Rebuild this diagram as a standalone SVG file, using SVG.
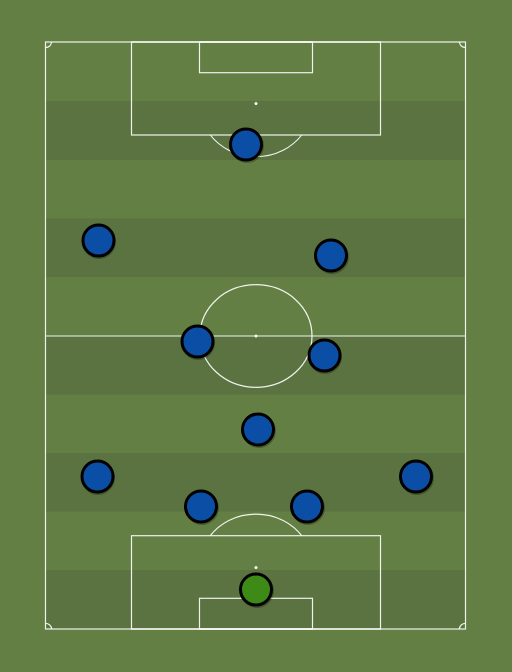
<svg xmlns="http://www.w3.org/2000/svg" width="512" height="672" viewBox="0 0 512 672">
<defs>
<style>
.band{fill:#5a7340}
.line{fill:none;stroke:#ffffff;stroke-width:1.2;stroke-opacity:0.9}
.spot{fill:#ffffff}
.player{stroke:#000000;stroke-width:3}
.outfield{fill:#0b4ea5}
.keeper{fill:#3d8a17}
.shadow{fill:#000000;fill-opacity:0.25}
</style>
</defs>
<rect x="0" y="0" width="512" height="672" fill="#637f43"/>
<g id="pitch">
<rect class="band" x="45.5" y="101" width="420" height="59"/>
<rect class="band" x="45.5" y="218.5" width="420" height="58.5"/>
<rect class="band" x="45.5" y="336" width="420" height="58.5"/>
<rect class="band" x="45.5" y="453" width="420" height="58.5"/>
<rect class="band" x="45.5" y="570" width="420" height="59"/>
<rect class="line" x="45.5" y="42" width="420" height="587"/>
<line class="line" x1="45.5" y1="336" x2="465.5" y2="336"/>
<ellipse class="line" cx="256" cy="336" rx="56" ry="51.3"/>
<circle class="spot" cx="256" cy="336" r="1.5"/>
<rect class="line" x="131.5" y="42" width="249" height="93"/>
<rect class="line" x="199.5" y="42" width="113" height="30.7"/>
<circle class="spot" cx="256" cy="103.5" r="1.5"/>
<path class="line" d="M210.3 135 A56 51.3 0 0 0 301.7 135"/>
<rect class="line" x="131.5" y="535.7" width="249" height="93.3"/>
<rect class="line" x="199.5" y="598.3" width="113" height="30.7"/>
<circle class="spot" cx="256" cy="567.5" r="1.5"/>
<path class="line" d="M210.3 535.7 A56 51.3 0 0 1 301.7 535.7"/>
<path class="line" d="M45.5 47.6 A6 5.6 0 0 0 51.5 42"/>
<path class="line" d="M459.5 42 A6 5.6 0 0 0 465.5 47.6"/>
<path class="line" d="M45.5 623.4 A6 5.6 0 0 1 51.5 629"/>
<path class="line" d="M459.5 629 A6 5.6 0 0 1 465.5 623.4"/>
</g>
<g id="p1"><circle class="shadow" cx="247" cy="146" r="17"/><circle class="player outfield" cx="246" cy="144.5" r="15.5"/></g>
<g id="p2"><circle class="shadow" cx="99" cy="242" r="17"/><circle class="player outfield" cx="98.5" cy="240.5" r="15.5"/></g>
<g id="p3"><circle class="shadow" cx="332" cy="257" r="17"/><circle class="player outfield" cx="331" cy="255.5" r="15.5"/></g>
<g id="p4"><circle class="shadow" cx="198" cy="343" r="17"/><circle class="player outfield" cx="197.5" cy="341.5" r="15.5"/></g>
<g id="p5"><circle class="shadow" cx="325" cy="357" r="17"/><circle class="player outfield" cx="324.5" cy="355.5" r="15.5"/></g>
<g id="p6"><circle class="shadow" cx="259" cy="431" r="17"/><circle class="player outfield" cx="258" cy="429.5" r="15.5"/></g>
<g id="p7"><circle class="shadow" cx="98" cy="478" r="17"/><circle class="player outfield" cx="97.5" cy="476.5" r="15.5"/></g>
<g id="p8"><circle class="shadow" cx="417" cy="478" r="17"/><circle class="player outfield" cx="416" cy="476.5" r="15.5"/></g>
<g id="p9"><circle class="shadow" cx="202" cy="508" r="17"/><circle class="player outfield" cx="201" cy="506.5" r="15.5"/></g>
<g id="p10"><circle class="shadow" cx="308" cy="508" r="17"/><circle class="player outfield" cx="307" cy="506.5" r="15.5"/></g>
<g id="gk"><circle class="shadow" cx="257" cy="591" r="17"/><circle class="player keeper" cx="256" cy="589.5" r="15.5"/></g>
<g id="connectors"></g>
</svg>
